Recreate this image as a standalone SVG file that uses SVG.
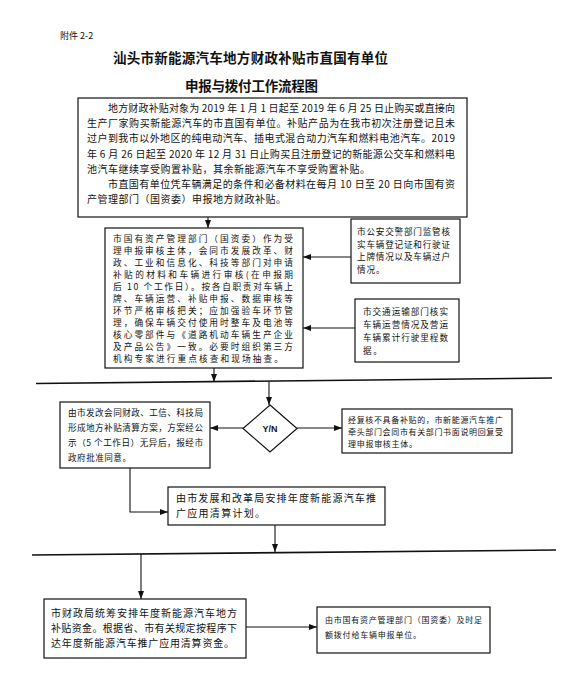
<svg xmlns="http://www.w3.org/2000/svg" width="570" height="690" viewBox="0 0 570 690">
<style>
text{font-family:"Noto Sans CJK SC","Noto Sans",sans-serif;fill:#111}
.box{fill:#fff;stroke:#111;stroke-width:1.2}
.ln{fill:none;stroke:#111;stroke-width:1.1}
.sep{fill:none;stroke:#111;stroke-width:1.6}
.t10{font-size:10px}
.t95{font-size:8.7px}
.t9{font-size:8.6px}
.t8{font-size:8px}
.ttl{font-size:13.5px;font-weight:bold}
</style>
<defs>
<marker id="ah" viewBox="0 0 8 6" refX="8" refY="3" markerWidth="8" markerHeight="6" markerUnits="userSpaceOnUse" orient="auto">
<path d="M0,0 L8,3 L0,6 Z" fill="#111"/>
</marker>
</defs>
<rect width="570" height="690" fill="#fff"/>
<text x="60" y="39" style="font-size:9px">附件 2-2</text>
<text class="ttl" x="113" y="63" textLength="275">汕头市新能源汽车地方财政补贴市直国有单位</text>
<text class="ttl" x="185" y="91" textLength="133">申报与拨付工作流程图</text>

<g id="connectors">
<line class="ln" x1="208" y1="217" x2="208" y2="228" marker-end="url(#ah)"/>
<line class="ln" x1="351" y1="257" x2="303" y2="257" marker-end="url(#ah)"/>
<line class="ln" x1="355" y1="328" x2="303" y2="328" marker-end="url(#ah)"/>
<line class="ln" x1="214" y1="368" x2="214" y2="382" marker-end="url(#ah)"/>
<line class="sep" x1="36" y1="383.5" x2="552" y2="378"/>
<line class="ln" x1="269" y1="381" x2="269" y2="405" marker-end="url(#ah)"/>
<line class="ln" x1="243" y1="428" x2="210" y2="428" marker-end="url(#ah)"/>
<line class="ln" x1="297" y1="428" x2="342" y2="428" marker-end="url(#ah)"/>
<polyline class="ln" points="130,468 130,512 168,512" marker-end="url(#ah)"/>
<line class="ln" x1="275" y1="525" x2="275" y2="552" marker-end="url(#ah)"/>
<line class="sep" x1="32" y1="555" x2="556" y2="550"/>
<line class="ln" x1="141" y1="554" x2="141" y2="599" marker-end="url(#ah)"/>
<line class="ln" x1="246" y1="627" x2="317" y2="627" marker-end="url(#ah)"/>
</g>

<g id="n1">
<rect class="box" x="78" y="98" width="389" height="119"/>
<text class="t10" x="108" y="112" textLength="347">地方财政补贴对象为 2019 年 1 月 1 日起至 2019 年 6 月 25 日止购买或直接向</text>
<text class="t10" x="87" y="127" textLength="368">生产厂家购买新能源汽车的市直国有单位。补贴产品为在我市初次注册登记且未</text>
<text class="t10" x="87" y="142" textLength="368">过户到我市以外地区的纯电动汽车、插电式混合动力汽车和燃料电池汽车。2019</text>
<text class="t10" x="87" y="158" textLength="368">年 6 月 26 日起至 2020 年 12 月 31 日止购买且注册登记的新能源公交车和燃料电</text>
<text class="t10" x="87" y="173" textLength="283">池汽车继续享受购置补贴，其余新能源汽车不享受购置补贴。</text>
<text class="t10" x="108" y="188" textLength="347">市直国有单位凭车辆满足的条件和必备材料在每月 10 日至 20 日向市国有资</text>
<text class="t10" x="87" y="203" textLength="199">产管理部门（国资委）申报地方财政补贴。</text>
</g>

<g id="n2">
<rect class="box" x="105" y="228" width="198" height="140"/>
<text class="t95" x="113" y="242" textLength="180">市国有资产管理部门（国资委）作为受</text>
<text class="t95" x="113" y="254" textLength="180">理申报审核主体，会同市发展改革、财</text>
<text class="t95" x="113" y="266" textLength="180">政、工业和信息化、科技等部门对申请</text>
<text class="t95" x="113" y="278" textLength="180">补贴的材料和车辆进行审核(在申报期</text>
<text class="t95" x="113" y="290" textLength="180">后 10 个工作日）。按各自职责对车辆上</text>
<text class="t95" x="113" y="302" textLength="180">牌、车辆运营、补贴申报、数据审核等</text>
<text class="t95" x="113" y="314" textLength="180">环节严格审核把关；应加强验车环节管</text>
<text class="t95" x="113" y="326" textLength="180">理，确保车辆交付使用时整车及电池等</text>
<text class="t95" x="113" y="338" textLength="180">核心零部件与《道路机动车辆生产企业</text>
<text class="t95" x="113" y="350" textLength="180">及产品公告》一致。必要时组织第三方</text>
<text class="t95" x="113" y="362" textLength="170">机构专家进行重点核查和现场抽查。</text>
</g>

<g id="n3">
<rect class="box" x="351" y="219" width="109" height="64"/>
<text class="t9" x="357" y="235" textLength="93">市公安交警部门监管核</text>
<text class="t9" x="357" y="247.5" textLength="93">实车辆登记证和行驶证</text>
<text class="t9" x="357" y="260" textLength="93">上牌情况以及车辆过户</text>
<text class="t9" x="357" y="273" textLength="27.5">情况。</text>
</g>

<g id="n4">
<rect class="box" x="355" y="299" width="104" height="63"/>
<text class="t9" x="363" y="315" textLength="85">市交通运输部门核实</text>
<text class="t9" x="363" y="327.5" textLength="85">车辆运营情况及营运</text>
<text class="t9" x="363" y="340.5" textLength="85">车辆累计行驶里程数</text>
<text class="t9" x="363" y="353.5" textLength="18.8">据。</text>
</g>

<g id="n5">
<rect class="box" x="60" y="402" width="150" height="66"/>
<text class="t9" x="68" y="416" textLength="135">由市发改会同财政、工信、科技局</text>
<text class="t9" x="68" y="431" textLength="135">形成地方补贴清算方案，方案经公</text>
<text class="t9" x="68" y="446" textLength="135">示（5 个工作日）无异后，报经市</text>
<text class="t9" x="68" y="461" textLength="63">政府批准同意。</text>
</g>

<g id="n6">
<polygon class="box" points="270,405 297,428.5 270,452 243,428.5"/>
<text x="270" y="432" text-anchor="middle" style="font-family:'Liberation Sans',Arial,sans-serif;font-size:9px;font-weight:bold">Y/N</text>
</g>

<g id="n7">
<rect class="box" x="342" y="409" width="170" height="44"/>
<text class="t8" x="348" y="422.5" textLength="155">经复核不具备补贴的，市新能源汽车推广</text>
<text class="t8" x="348" y="434.5" textLength="155">牵头部门会同市有关部门书面说明回复受</text>
<text class="t8" x="348" y="446.5" textLength="69">理申报审核主体。</text>
</g>

<g id="n8">
<rect class="box" x="168" y="487" width="217" height="38"/>
<text class="t10" x="176" y="502" textLength="200">由市发展和改革局安排年度新能源汽车推</text>
<text class="t10" x="176" y="517" textLength="89">广应用清算计划。</text>
</g>

<g id="n9">
<rect class="box" x="44" y="599" width="202" height="59"/>
<text class="t10" x="51" y="617" textLength="186">市财政局统筹安排年度新能源汽车地方</text>
<text class="t10" x="51" y="632" textLength="186">补贴资金。根据省、市有关规定按程序下</text>
<text class="t10" x="51" y="647" textLength="183">达年度新能源汽车推广应用清算资金。</text>
</g>

<g id="n10">
<rect class="box" x="317" y="607" width="173" height="46"/>
<text class="t8" x="325" y="623" textLength="157">由市国有资产管理部门（国资委）及时足</text>
<text class="t8" x="325" y="638" textLength="96">额拨付给车辆申报单位。</text>
</g>
</svg>
